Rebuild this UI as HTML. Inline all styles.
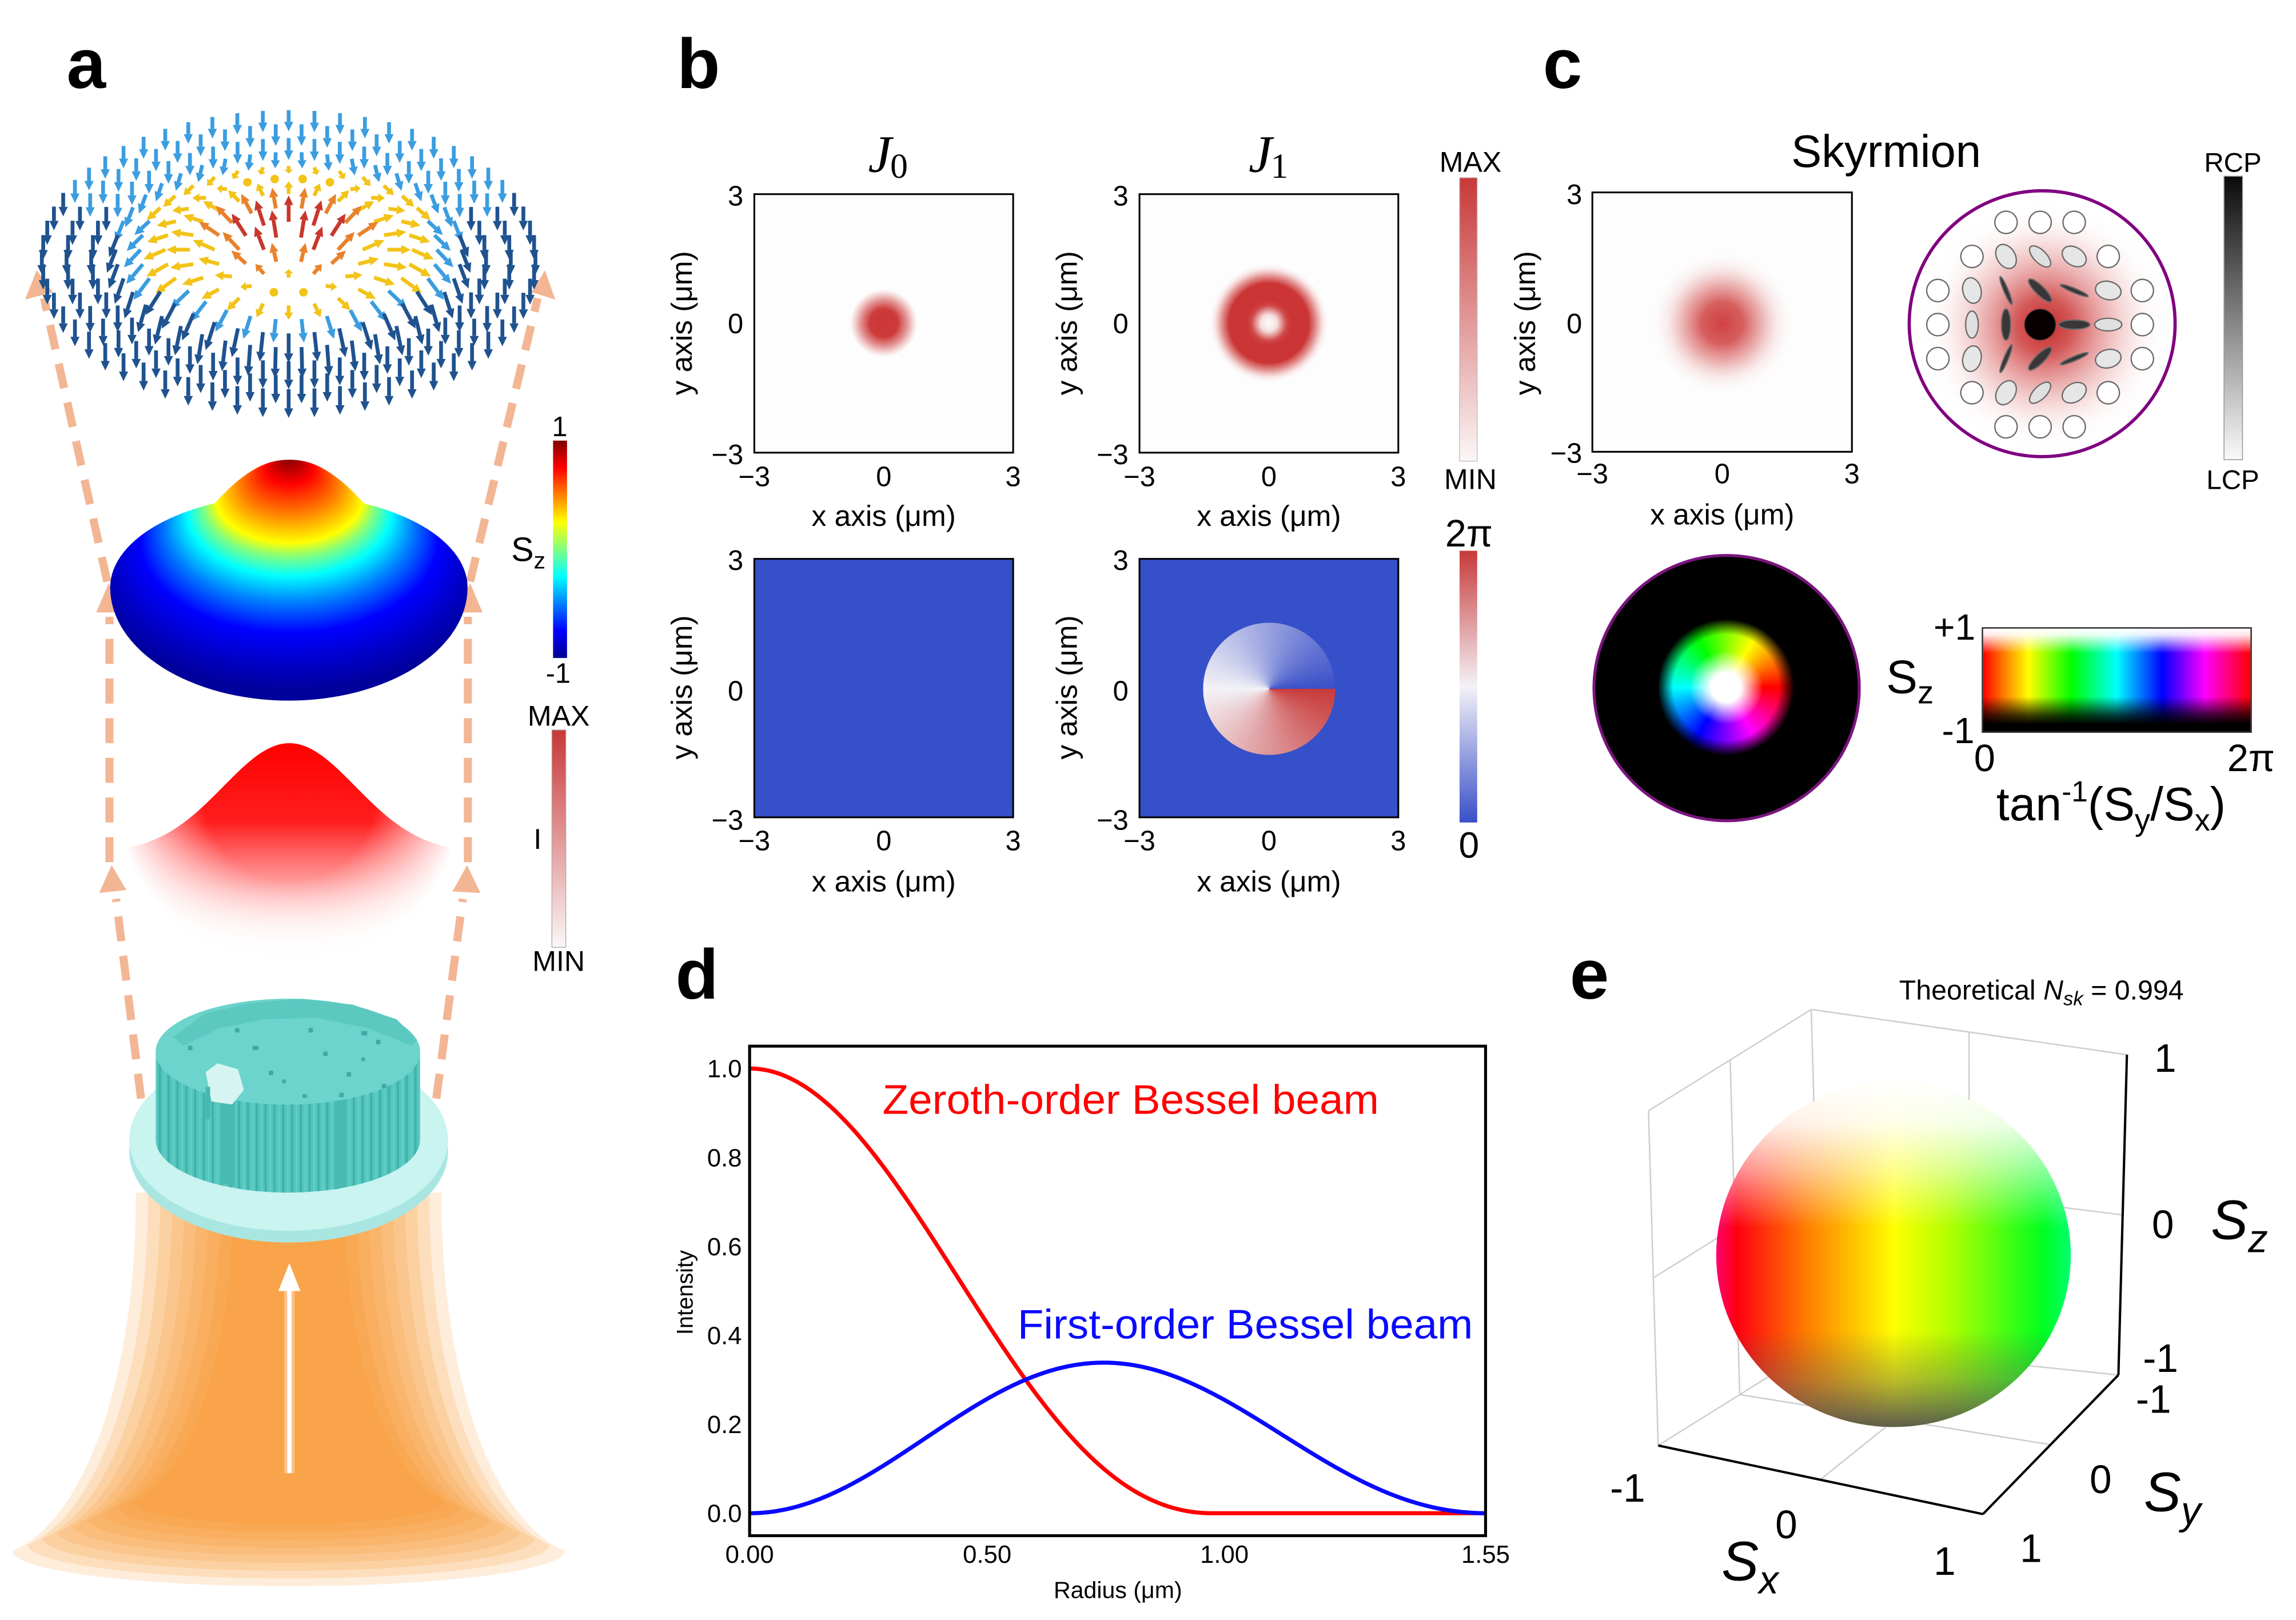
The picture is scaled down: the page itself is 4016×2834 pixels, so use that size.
<!DOCTYPE html>
<html><head><meta charset="utf-8">
<style>
html,body{margin:0;padding:0;background:#fff;}
svg{display:block;}
text{font-family:"Liberation Sans",Arial,sans-serif;fill:#000;}
.serif{font-family:"Liberation Serif","DejaVu Serif",serif;}
</style></head><body>
<svg id="root" xmlns="http://www.w3.org/2000/svg" width="4016" height="2834" viewBox="0 0 1563 1103" preserveAspectRatio="none">
<defs>
  <linearGradient id="jet" x1="0" y1="0" x2="0" y2="1">
    <stop offset="0" stop-color="#800000"/><stop offset="0.125" stop-color="#ff0000"/>
    <stop offset="0.375" stop-color="#ffff00"/><stop offset="0.625" stop-color="#00ffff"/>
    <stop offset="0.875" stop-color="#0000ff"/><stop offset="1" stop-color="#00008f"/>
  </linearGradient>
  <linearGradient id="redbar" x1="0" y1="0" x2="0" y2="1">
    <stop offset="0" stop-color="#c83838"/><stop offset="1" stop-color="#fbf7f7"/>
  </linearGradient>
  <linearGradient id="cwbar" x1="0" y1="0" x2="0" y2="1">
    <stop offset="0" stop-color="#c83a3a"/><stop offset="0.5" stop-color="#f3f2f7"/><stop offset="1" stop-color="#3a4fc8"/>
  </linearGradient>
  <linearGradient id="graybar" x1="0" y1="0" x2="0" y2="1">
    <stop offset="0" stop-color="#0a0a0a"/><stop offset="1" stop-color="#fafafa"/>
  </linearGradient>
  <radialGradient id="j0g" gradientUnits="userSpaceOnUse" cx="601.6" cy="220" r="23">
    <stop offset="0" stop-color="#cc3535" stop-opacity="1"/>
    <stop offset="0.42" stop-color="#cc3535" stop-opacity="0.97"/>
    <stop offset="0.7" stop-color="#d04545" stop-opacity="0.55"/>
    <stop offset="1" stop-color="#e07070" stop-opacity="0"/>
  </radialGradient>
  <radialGradient id="j1g" gradientUnits="userSpaceOnUse" cx="863.8" cy="220" r="40">
    <stop offset="0" stop-color="#cc3535" stop-opacity="0"/>
    <stop offset="0.14" stop-color="#cc3535" stop-opacity="0.15"/>
    <stop offset="0.3" stop-color="#cc3535" stop-opacity="0.9"/>
    <stop offset="0.38" stop-color="#cc3535" stop-opacity="1"/>
    <stop offset="0.68" stop-color="#cc3535" stop-opacity="1"/>
    <stop offset="0.8" stop-color="#d04545" stop-opacity="0.6"/>
    <stop offset="0.93" stop-color="#e07070" stop-opacity="0.12"/>
    <stop offset="1" stop-color="#e07070" stop-opacity="0"/>
  </radialGradient>
  <radialGradient id="skg" gradientUnits="userSpaceOnUse" cx="1172.4" cy="220" r="47">
    <stop offset="0" stop-color="#cf3d3d" stop-opacity="0.98"/>
    <stop offset="0.3" stop-color="#d04242" stop-opacity="0.85"/>
    <stop offset="0.55" stop-color="#d85a5a" stop-opacity="0.5"/>
    <stop offset="0.8" stop-color="#e48a8a" stop-opacity="0.15"/>
    <stop offset="1" stop-color="#f0b0b0" stop-opacity="0"/>
  </radialGradient>
  <radialGradient id="eldg" gradientUnits="userSpaceOnUse" cx="1392" cy="222" r="86">
    <stop offset="0" stop-color="#c42a2a" stop-opacity="1"/>
    <stop offset="0.22" stop-color="#cc3a3a" stop-opacity="0.85"/>
    <stop offset="0.5" stop-color="#d86060" stop-opacity="0.45"/>
    <stop offset="0.78" stop-color="#eaa0a0" stop-opacity="0.12"/>
    <stop offset="1" stop-color="#ffffff" stop-opacity="0"/>
  </radialGradient>
  <!-- Sz surface gradient with focal point -->
  <radialGradient id="szg" gradientUnits="userSpaceOnUse" cx="197" cy="625" r="135" fx="197" fy="500"
      gradientTransform="matrix(1 0 0 0.62 0 0)">
    <stop offset="0" stop-color="#7a0000"/>
    <stop offset="0.05" stop-color="#b00000"/>
    <stop offset="0.12" stop-color="#ff0000"/>
    <stop offset="0.25" stop-color="#ff8000"/>
    <stop offset="0.37" stop-color="#ffff00"/>
    <stop offset="0.43" stop-color="#80ff80"/>
    <stop offset="0.51" stop-color="#00ffff"/>
    <stop offset="0.62" stop-color="#0080ff"/>
    <stop offset="0.75" stop-color="#0000ff"/>
    <stop offset="0.90" stop-color="#0000c0"/>
    <stop offset="1" stop-color="#00009a"/>
  </radialGradient>
  <linearGradient id="gaussFill" gradientUnits="userSpaceOnUse" x1="0" y1="506" x2="0" y2="660">
    <stop offset="0" stop-color="#ff0000" stop-opacity="1"/>
    <stop offset="0.35" stop-color="#ff1e1e" stop-opacity="1"/>
    <stop offset="0.6" stop-color="#ff4d4d" stop-opacity="0.6"/>
    <stop offset="0.8" stop-color="#ff8080" stop-opacity="0.22"/>
    <stop offset="1" stop-color="#ffffff" stop-opacity="0"/>
  </linearGradient>
  <radialGradient id="gmaskGrad" gradientUnits="userSpaceOnUse" cx="197" cy="540" r="118">
    <stop offset="0" stop-color="#fff"/><stop offset="0.5" stop-color="#fff"/><stop offset="1" stop-color="#000"/>
  </radialGradient>
  <mask id="gmask" maskUnits="userSpaceOnUse" x="0" y="480" width="420" height="220">
    <rect x="0" y="480" width="420" height="220" fill="url(#gmaskGrad)"/>
  </mask>
  <pattern id="stripes" width="6" height="10" patternUnits="userSpaceOnUse">
    <rect width="6" height="10" fill="#55c6be"/><rect width="1.6" height="10" fill="#3fb2aa"/><rect x="3.5" width="1" height="10" fill="#62cfc7"/>
  </pattern>
  <linearGradient id="sphH" gradientUnits="userSpaceOnUse" x1="1168" y1="0" x2="1410" y2="0">
    <stop offset="0" stop-color="#ff0070"/><stop offset="0.06" stop-color="#ff0010"/>
    <stop offset="0.25" stop-color="#ff7a00"/><stop offset="0.5" stop-color="#ffff00"/>
    <stop offset="0.66" stop-color="#b0ff00"/><stop offset="0.92" stop-color="#00ff20"/>
    <stop offset="1" stop-color="#00ff70"/>
  </linearGradient>
  <linearGradient id="sphV" gradientUnits="userSpaceOnUse" x1="0" y1="737.8" x2="0" y2="971.5">
    <stop offset="0" stop-color="#ffffff" stop-opacity="1"/>
    <stop offset="0.12" stop-color="#ffffff" stop-opacity="0.9"/>
    <stop offset="0.25" stop-color="#ffffff" stop-opacity="0.55"/>
    <stop offset="0.42" stop-color="#ffffff" stop-opacity="0"/>
    <stop offset="0.72" stop-color="#505050" stop-opacity="0"/>
    <stop offset="0.86" stop-color="#606060" stop-opacity="0.4"/>
    <stop offset="1" stop-color="#505050" stop-opacity="0.92"/>
  </linearGradient>
</defs>

<!-- ===== Panel labels ===== -->
<g font-weight="bold" font-size="48" text-anchor="middle">
  <text x="58.7" y="60">a</text>
  <text x="475.5" y="60">b</text>
  <text x="1063.7" y="60">c</text>
  <text x="474.5" y="680">d</text>
  <text x="1082" y="680">e</text>
</g>

<!-- ===== Panel a ===== -->
<g id="beam"></g>
<!-- white arrow in beam -->
<line x1="197" y1="1003" x2="197" y2="872" stroke="#ffd9b0" stroke-width="7" stroke-opacity="0.6"/>
<line x1="197" y1="1003" x2="197" y2="874" stroke="#ffffff" stroke-width="3"/>
<polygon points="197,860 189.5,879 204.5,879" fill="#ffffff"/>

<!-- substrate disk -->
<ellipse cx="196.5" cy="784" rx="108.5" ry="62" fill="#a9e6e1"/>
<ellipse cx="196.5" cy="776" rx="108.5" ry="62" fill="#c9f4f0"/>

<!-- dashed peach lines -->
<g stroke="#f3b694" stroke-width="5.5" stroke-dasharray="17 10" fill="none">
  <line x1="96" y1="748" x2="79" y2="612"/>
  <line x1="74.5" y1="587" x2="74.5" y2="420"/>
  <line x1="73" y1="396" x2="30" y2="203"/>
  <line x1="297" y1="748" x2="315" y2="612"/>
  <line x1="318.5" y1="587" x2="318.5" y2="420"/>
  <line x1="320" y1="396" x2="366" y2="203"/>
</g>
<g fill="#f3b694">
  <polygon points="76,589 67.5,608 86,606"/>
  <polygon points="74,397 65.5,417 82.5,417"/>
  <polygon points="25,184 17,204 36,199"/>
  <polygon points="318,589 308,607 327,608"/>
  <polygon points="320,397 311,417 328.5,417"/>
  <polygon points="371,184 362,199 378,204"/>
</g>

<!-- metasurface pillars -->
<path d="M106,716 L106,776 A90,36 0 0 0 286,776 L286,716 A90,36 0 0 1 106,716 Z" fill="url(#stripes)"/>
<path d="M150,745 L150,805 L160,808 L160,750 Z M228,750 L228,810 L236,808 L236,748 Z" fill="#47bab2"/>
<ellipse cx="196" cy="716" rx="90" ry="36" fill="#6cd4cc"/>
<path d="M118,706 L140,690 L170,683 L205,680 L240,684 L270,694 L284,708 L280,712 L250,700 L215,693 L180,694 L150,700 L125,712 Z" fill="#5cc9c1"/>
<path d="M140,730 L148,724 L162,728 L166,742 L158,752 L144,750 Z" fill="#d6f5f2"/>
<rect x="140" y="740" width="3" height="22" fill="#45b8b0"/>
<g fill="#3fa9a2">
  <rect x="183" y="729" width="3" height="3"/><rect x="192" y="735" width="2.5" height="2.5"/>
  <rect x="220" y="716" width="3" height="3"/><rect x="236" y="730" width="3" height="3"/>
  <rect x="246" y="720" width="2.5" height="2.5"/><rect x="256" y="708" width="3" height="3"/>
  <rect x="231" y="744" width="3" height="3"/><rect x="210" y="700" width="3" height="3"/>
  <rect x="260" y="738" width="3" height="3"/><rect x="128" y="712" width="3" height="3"/>
  <rect x="160" y="700" width="3" height="3"/><rect x="206" y="745" width="3" height="2.5"/>
  <rect x="172" y="712" width="4" height="3"/><rect x="246" y="702" width="4" height="3"/>
</g>

<!-- red gaussian intensity surface -->
<path id="gauss" d="" fill="url(#gaussFill)" mask="url(#gmask)"/>

<!-- Sz surface -->
<path d="M75,400 A121.6,63 0 0 1 318.3,400 A121.6,77 0 0 1 75,400 Z" fill="url(#szg)"/>
<path d="M122,366 C140,352 150,336 165,325 C178,315 188,313 197,313 C206,313 216,315 229,325 C244,336 254,352 272,366 C240,380 155,380 122,366 Z" fill="url(#szg)"/>

<!-- arrow field -->
<g id="arrows"></g>

<!-- colorbars panel a -->
<rect x="376.5" y="300" width="9.5" height="148" fill="url(#jet)"/>
<text x="381" y="297" font-size="19" text-anchor="middle">1</text>
<text x="380" y="465" font-size="19" text-anchor="middle">-1</text>
<text x="348" y="382" font-size="23">S<tspan font-size="16" dy="5">z</tspan></text>
<rect x="375.7" y="497" width="9.5" height="148" fill="url(#redbar)" stroke="#aaa" stroke-width="0.5"/>
<text x="380.3" y="494" font-size="19.5" text-anchor="middle">MAX</text>
<text x="366" y="578" font-size="19.5" text-anchor="middle">I</text>
<text x="380.3" y="661" font-size="19.5" text-anchor="middle">MIN</text>

<!-- ===== Panel b ===== -->
<text class="serif" x="591" y="117" font-size="36" font-style="italic">J</text>
<text class="serif" x="606" y="121" font-size="24">0</text>
<text class="serif" x="850" y="117" font-size="36" font-style="italic">J</text>
<text class="serif" x="865" y="121" font-size="24">1</text>

<rect x="513.5" y="132.2" width="176.2" height="176" fill="#fdfdfd"/>
<circle cx="601.6" cy="220" r="23" fill="url(#j0g)"/>
<rect x="513.5" y="132.2" width="176.2" height="176" fill="none" stroke="#000" stroke-width="1.2"/>

<rect x="775.7" y="132.2" width="176.2" height="176" fill="#fdfdfd"/>
<circle cx="863.8" cy="220" r="40" fill="url(#j1g)"/>
<rect x="775.7" y="132.2" width="176.2" height="176" fill="none" stroke="#000" stroke-width="1.2"/>

<rect x="513.5" y="380.5" width="176.2" height="176" fill="#3550c8" stroke="#000" stroke-width="1.2"/>
<rect x="775.7" y="380.5" width="176.2" height="176" fill="#3550c8" stroke="#000" stroke-width="1.2"/>
<foreignObject x="819" y="423.5" width="90" height="90">
  <div xmlns="http://www.w3.org/1999/xhtml" style="width:90px;height:90px;border-radius:50%;background:conic-gradient(from 90deg,#c83a3a,#f3f2f7 50%,#3a4fc8);"></div>
</foreignObject>

<g font-size="19">
  <g text-anchor="end">
    <text x="506" y="140">3</text><text x="506" y="227">0</text><text x="506" y="316">−3</text>
    <text x="768.2" y="140">3</text><text x="768.2" y="227">0</text><text x="768.2" y="316">−3</text>
    <text x="506" y="388">3</text><text x="506" y="477">0</text><text x="506" y="565">−3</text>
    <text x="768.2" y="388">3</text><text x="768.2" y="477">0</text><text x="768.2" y="565">−3</text>
  </g>
  <g text-anchor="middle">
    <text x="513.5" y="331">−3</text><text x="601.6" y="331">0</text><text x="689.7" y="331">3</text>
    <text x="775.7" y="331">−3</text><text x="863.8" y="331">0</text><text x="951.9" y="331">3</text>
    <text x="513.5" y="579">−3</text><text x="601.6" y="579">0</text><text x="689.7" y="579">3</text>
    <text x="775.7" y="579">−3</text><text x="863.8" y="579">0</text><text x="951.9" y="579">3</text>
  </g>
</g>
<g font-size="20" text-anchor="middle">
  <text x="601.6" y="358">x axis (μm)</text>
  <text x="863.8" y="358">x axis (μm)</text>
  <text x="601.6" y="607">x axis (μm)</text>
  <text x="863.8" y="607">x axis (μm)</text>
  <text transform="translate(471,220) rotate(-90)">y axis (μm)</text>
  <text transform="translate(733,220) rotate(-90)">y axis (μm)</text>
  <text transform="translate(471,468) rotate(-90)">y axis (μm)</text>
  <text transform="translate(733,468) rotate(-90)">y axis (μm)</text>
</g>
<rect x="993.6" y="121" width="12" height="193" fill="url(#redbar)" stroke="#bbb" stroke-width="0.5"/>
<text x="1001" y="117" font-size="19.5" text-anchor="middle">MAX</text>
<text x="1001" y="333" font-size="19.5" text-anchor="middle">MIN</text>
<rect x="993.6" y="375" width="12" height="185" fill="url(#cwbar)"/>
<text x="1000" y="372" font-size="26" text-anchor="middle">2π</text>
<text x="1000" y="584" font-size="25" text-anchor="middle">0</text>

<!-- ===== Panel c ===== -->
<text x="1284" y="113.6" font-size="31" text-anchor="middle">Skyrmion</text>
<rect x="1084" y="131" width="176.7" height="176.6" fill="#fdfdfd"/>
<circle cx="1172.4" cy="220" r="47" fill="url(#skg)"/>
<rect x="1084" y="131" width="176.7" height="176.6" fill="none" stroke="#000" stroke-width="1.2"/>
<g font-size="19">
  <g text-anchor="end">
    <text x="1077" y="139">3</text><text x="1077" y="227">0</text><text x="1077" y="315">−3</text>
  </g>
  <g text-anchor="middle">
    <text x="1084" y="329">−3</text><text x="1172.4" y="329">0</text><text x="1260.7" y="329">3</text>
  </g>
</g>
<text x="1172.4" y="357" font-size="20" text-anchor="middle">x axis (μm)</text>
<text transform="translate(1045,220) rotate(-90)" font-size="20" text-anchor="middle">y axis (μm)</text>

<circle cx="1390.2" cy="220.4" r="90.5" fill="#ffffff"/>
<circle cx="1390.2" cy="220.4" r="88" fill="url(#eldg)"/>
<g id="pol"></g>
<circle cx="1390.2" cy="220.4" r="90.5" fill="none" stroke="#800080" stroke-width="2.2"/>

<rect x="1514" y="120" width="12.6" height="193" fill="url(#graybar)" stroke="#999" stroke-width="0.6"/>
<text x="1520" y="117" font-size="18.5" text-anchor="middle">RCP</text>
<text x="1520" y="333" font-size="18.5" text-anchor="middle">LCP</text>

<circle cx="1175.4" cy="468.5" r="90.3" fill="#000" stroke="#7a147e" stroke-width="2"/>
<foreignObject x="1125" y="418" width="100" height="100">
  <div xmlns="http://www.w3.org/1999/xhtml" style="width:100px;height:100px;border-radius:50%;background:radial-gradient(circle closest-side, #fff 0%, #fff 20%, rgba(255,255,255,0) 50%, rgba(0,0,0,0) 72%, #000 93%), conic-gradient(from 90deg, #ff0000, #ff00ff, #0000ff, #00ffff, #00ff00, #ffff00, #ff0000);"></div>
</foreignObject>

<foreignObject x="1349" y="427" width="184" height="72">
  <div xmlns="http://www.w3.org/1999/xhtml" style="box-sizing:border-box;width:184px;height:72px;border:0.8px solid #333;background:linear-gradient(to bottom, #fff 0%, rgba(255,255,255,0.9) 6%, rgba(255,255,255,0) 24%, rgba(0,0,0,0) 66%, rgba(0,0,0,0.75) 84%, #000 93%, #000 100%), linear-gradient(to right, #ff0000 0%, #ff8000 8%, #ffff00 17%, #00ff00 33%, #00ffff 50%, #0000ff 67%, #ff00ff 83%, #ff0000 100%);"></div>
</foreignObject>
<text x="1330.5" y="435.5" font-size="25" text-anchor="middle">+1</text>
<text x="1333" y="506" font-size="25" text-anchor="middle">-1</text>
<text x="1284" y="472" font-size="32">S<tspan font-size="22" dy="7">z</tspan></text>
<text x="1351" y="525" font-size="26" text-anchor="middle">0</text>
<text x="1532.4" y="525" font-size="26" text-anchor="middle">2π</text>
<text x="1359" y="558.6" font-size="32">tan<tspan font-size="20" dy="-13">-1</tspan><tspan dy="13">(S</tspan><tspan font-size="21" dy="7">y</tspan><tspan dy="-7">/S</tspan><tspan font-size="21" dy="7">x</tspan><tspan dy="-7">)</tspan></text>

<!-- ===== Panel d ===== -->
<path id="redc" d="" fill="none" stroke="#ff0000" stroke-width="2.8" stroke-linejoin="round"/>
<path id="bluec" d="" fill="none" stroke="#0a0aff" stroke-width="2.8" stroke-linejoin="round"/>
<rect x="510.3" y="712.3" width="501" height="333.3" fill="none" stroke="#000" stroke-width="2"/>
<g font-size="17" text-anchor="end">
  <text x="505" y="733.5">1.0</text><text x="505" y="794.1">0.8</text><text x="505" y="854.6">0.6</text>
  <text x="505" y="915.2">0.4</text><text x="505" y="975.7">0.2</text><text x="505" y="1036.3">0.0</text>
</g>
<g font-size="17" text-anchor="middle">
  <text x="510.3" y="1064">0.00</text><text x="672" y="1064">0.50</text>
  <text x="833.5" y="1064">1.00</text><text x="1011.3" y="1064">1.55</text>
</g>
<text x="761" y="1088" font-size="16" text-anchor="middle">Radius (μm)</text>
<text transform="translate(471.5,880) rotate(-90)" font-size="15.5" text-anchor="middle">Intensity</text>
<text x="600.7" y="758.4" font-size="28" style="fill:#ff0000" textLength="338" lengthAdjust="spacingAndGlyphs">Zeroth-order Bessel beam</text>
<text x="692.7" y="911.3" font-size="28" style="fill:#0a0aff" textLength="310" lengthAdjust="spacingAndGlyphs">First-order Bessel beam</text>

<!-- ===== Panel e ===== -->
<text x="1292.8" y="680.5" font-size="18.8">Theoretical <tspan font-style="italic">N</tspan><tspan font-style="italic" font-size="13.5" dy="4">sk</tspan><tspan dy="-4"> = 0.994</tspan></text>
<g stroke="#cfcfcf" stroke-width="1" fill="none">
  <line x1="1122.2" y1="756.3" x2="1233" y2="687.3"/>
  <line x1="1233" y1="687.3" x2="1447.9" y2="718.1"/>
  <line x1="1122.2" y1="756.3" x2="1128.8" y2="984.2"/>
  <line x1="1233" y1="687.3" x2="1239.5" y2="915.1"/>
  <line x1="1128.8" y1="984.2" x2="1239.5" y2="915.1"/>
  <line x1="1239.5" y1="915.1" x2="1442.1" y2="936.2"/>
  <line x1="1177.8" y1="721.7" x2="1184.3" y2="949.5"/>
  <line x1="1125.5" y1="870.1" x2="1236.2" y2="801"/>
  <line x1="1340.4" y1="702.6" x2="1340.8" y2="925.7"/>
  <line x1="1236.2" y1="801" x2="1445" y2="827.2"/>
  <line x1="1239.2" y1="1007.4" x2="1340.8" y2="925.7"/>
  <line x1="1396" y1="983.6" x2="1184.3" y2="949.5"/>
</g>
<ellipse cx="1289" cy="854.6" rx="120.7" ry="117" fill="url(#sphH)"/>
<ellipse cx="1289" cy="854.6" rx="120.7" ry="117" fill="url(#sphV)"/>
<g stroke="#000" stroke-width="1.6" fill="none">
  <line x1="1128.8" y1="984.2" x2="1349.9" y2="1030.9"/>
  <line x1="1349.9" y1="1030.9" x2="1442.1" y2="936.2"/>
  <line x1="1442.1" y1="936.2" x2="1447.9" y2="718.1"/>
</g>
<g font-size="27" text-anchor="middle">
  <text x="1474" y="729.7">1</text>
  <text x="1472.4" y="843">0</text>
  <text x="1470.8" y="934">-1</text>
  <text x="1466" y="962">-1</text>
  <text x="1430" y="1016.5">0</text>
  <text x="1382.6" y="1063.5">1</text>
  <text x="1108" y="1022.4">-1</text>
  <text x="1216" y="1047.4">0</text>
  <text x="1323.8" y="1072.3">1</text>
</g>
<g font-size="38" font-style="italic">
  <text x="1505" y="843.6">S<tspan font-size="27" dy="9">z</tspan></text>
  <text x="1459.4" y="1028.8">S<tspan font-size="27" dy="9">y</tspan></text>
  <text x="1171.9" y="1075.9">S<tspan font-size="27" dy="9">x</tspan></text>
</g>
</svg>

<script>
(function(){
var NS='http://www.w3.org/2000/svg';
function el(tag,attrs,parent){var e=document.createElementNS(NS,tag);for(var k in attrs)e.setAttribute(k,attrs[k]);parent.appendChild(e);return e;}

/* ---- beam ---- */
var beam=document.getElementById('beam');
var cx=196.5;
for(var i=0;i<9;i++){
  var f=i/8;
  var wt=104-66*f, yt=812, wb=188-82*f, yb=1080-42*f, ry=24-8*f;
  var yE=yb-ry, h=yE-yt;
  var d='M'+(cx-wt)+','+yt+
    ' C'+(cx-wt)+','+(yt+0.55*h)+' '+(cx-wt-0.45*(wb-wt))+','+(yE-0.08*h)+' '+(cx-wb)+','+yE+
    ' A'+wb+','+ry+' 0 0 0 '+(cx+wb)+','+yE+
    ' C'+(cx+wt+0.45*(wb-wt))+','+(yE-0.08*h)+' '+(cx+wt)+','+(yt+0.55*h)+' '+(cx+wt)+','+yt+' Z';
  el('path',{d:d,fill:'#f8921c','fill-opacity':'0.16'},beam);
}

/* ---- gaussian ---- */
var gd='M40,690 L40,581';
for(var x=40;x<=354;x+=2){
  var dx=x-197; var y=506+75*(1-Math.exp(-dx*dx/(2*45*45)));
  gd+=' L'+x+','+y.toFixed(2);
}
gd+=' L354,690 Z';
document.getElementById('gauss').setAttribute('d',gd);

/* ---- arrow field ---- */
var g=document.getElementById('arrows');
var items=[];
var acx=196.5, acy=170, Ax=168, Ay=95;
for(var k=1;k<=10;k++){
  var r=k/10, n=6*k;
  var th=Math.PI*Math.min(1,r/0.8);
  var sz=Math.cos(th), st=Math.sin(th);
  for(var j=0;j<n;j++){
    var ph=2*Math.PI*j/n;
    var X=r*Math.cos(ph), Y=r*Math.sin(ph);
    var p=1+0.15*Y;
    var x0=acx+X*Ax, y0=acy+Y*Ay;
    var ddx=st*Math.cos(ph)*16*p;
    var ddy=st*Math.sin(ph)*16*0.57*p - sz*17*p;
    var se=sz-0.35*Math.sin(ph);
    var col= se>0.8?'#c8372c': se>0.4?'#e8822b': se>-0.55?'#f2c318': se>-0.85?'#3b9de0':'#1f528f';
    items.push({Y:Y,x0:x0,y0:y0,dx:ddx,dy:ddy,col:col});
  }
}
items.sort(function(a,b){return a.Y-b.Y;});
items.forEach(function(a){
  var len=Math.sqrt(a.dx*a.dx+a.dy*a.dy);
  if(len<4.5){
    el('circle',{cx:(a.x0+a.dx*0.5).toFixed(2),cy:(a.y0+a.dy*0.5).toFixed(2),r:2.9,fill:a.col},g);
    return;
  }
  var ux=a.dx/len, uy=a.dy/len;
  var hl=Math.min(6.5,len*0.5), hw=3.1;
  var tx=a.x0+a.dx, ty=a.y0+a.dy;
  var bx=tx-ux*hl, by=ty-uy*hl;
  el('line',{x1:a.x0.toFixed(2),y1:a.y0.toFixed(2),x2:bx.toFixed(2),y2:by.toFixed(2),stroke:a.col,'stroke-width':2.6},g);
  el('polygon',{points:tx.toFixed(2)+','+ty.toFixed(2)+' '+(bx-uy*hw).toFixed(2)+','+(by+ux*hw).toFixed(2)+' '+(bx+uy*hw).toFixed(2)+','+(by-ux*hw).toFixed(2),fill:a.col},g);
});

/* ---- polarization ellipses ---- */
var pg=document.getElementById('pol');
var pcx=1388.8, pcy=221, sp=23.2;
for(var jj=-3;jj<=3;jj++){
  for(var ii=-3;ii<=3;ii++){
    var dd=Math.sqrt(ii*ii+jj*jj);
    if(dd>3.2)continue;
    var px=pcx+ii*sp, py=pcy+jj*sp;
    if(dd<0.1){el('circle',{cx:px,cy:py,r:10.4,fill:'#080000',stroke:'#222','stroke-width':0.6},pg);continue;}
    var phi=Math.atan2(-jj,ii)*180/Math.PI;
    var rot=phi/2;
    var a,b,fill;
    if(dd<1.01){a=10.6;b=3.1;fill='#3a3536';}
    else if(dd<1.5){a=10.2;b=1.5;fill='#3a3536';}
    else if(dd<2.01){a=9.2;b=4.3;fill='#e0e0e0';}
    else if(dd<2.3){a=8.8;b=6.2;fill='#e6e6e6';}
    else {a=7.6;b=7.6;fill='#ffffff';}
    el('ellipse',{cx:0,cy:0,rx:a,ry:b,fill:fill,stroke:'#6a6a6a','stroke-width':0.9,transform:'translate('+px.toFixed(2)+','+py.toFixed(2)+') rotate('+rot.toFixed(2)+')'},pg);
  }
}

/* ---- Bessel curves ---- */
function fact(m){var f=1;for(var q=2;q<=m;q++)f*=q;return f;}
function J(nn,x){var s=0,h=x/2;for(var m=0;m<25;m++){s+=(m%2?-1:1)*Math.pow(h,2*m+nn)/(fact(m)*fact(m+nn));}return s;}
var kk=2.468, pr='', pb='';
for(var t=0;t<=310;t++){
  var rr=t*0.005, xx=510.3+rr*323.2;
  var a0=J(0,kk*rr); var vr=(kk*rr<2.4048)?a0*a0:0;
  var a1=J(1,kk*rr); var vb=a1*a1;
  pr+=(t?' L':'M')+xx.toFixed(2)+','+(1030.3-vr*302.8).toFixed(2);
  pb+=(t?' L':'M')+xx.toFixed(2)+','+(1030.3-vb*302.8).toFixed(2);
}
document.getElementById('redc').setAttribute('d',pr);
document.getElementById('bluec').setAttribute('d',pb);
})();
</script>
</body></html>
